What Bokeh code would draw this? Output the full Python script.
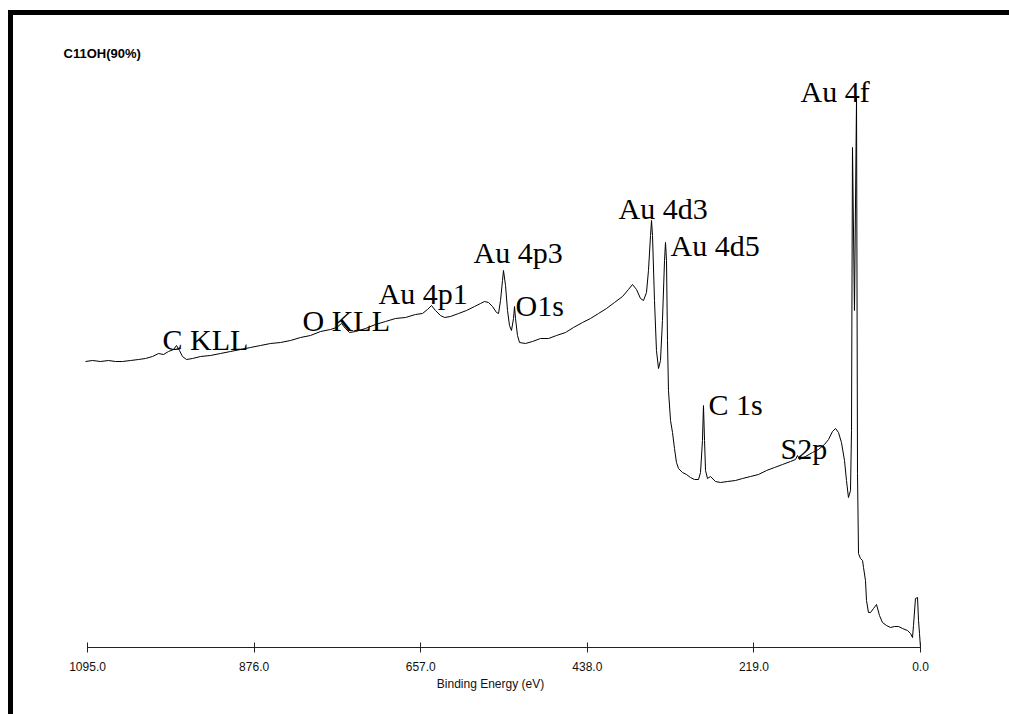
from bokeh.plotting import figure
from bokeh.models import Range1d, FixedTicker, PrintfTickFormatter
from bokeh.core.properties import value
from bokeh.embed import file_html
from bokeh.resources import INLINE

# Binding energy (eV) and intensity (arbitrary units)
energy = [1097.7, 1088.5, 1078.0, 1067.4, 1058.2, 1049.0, 1038.5, 1028.0, 1018.8, 1009.6,
          1001.7, 995.1, 988.6, 982.0, 978.1, 974.1, 970.2, 964.9, 957.0, 946.5,
          933.4, 920.2, 907.1, 893.9, 880.8, 867.6, 854.5, 841.3, 828.2, 815.0,
          801.9, 788.7, 775.6, 767.7, 761.1, 755.9, 750.6, 742.7, 729.6, 716.4,
          703.3, 690.2, 677.0, 663.9, 654.7, 648.1, 642.8, 637.6, 631.0, 625.7,
          617.9, 607.3, 596.8, 586.3, 578.4, 573.2, 567.9, 562.6, 557.4, 554.7,
          552.1, 549.5, 548.2, 545.5, 542.9, 540.3, 537.7, 535.0, 533.7, 532.4,
          529.8, 527.1, 519.3, 510.1, 499.5, 489.0, 478.5, 466.7, 456.2, 444.3,
          433.8, 423.3, 412.8, 402.3, 391.7, 383.9, 378.6, 373.3, 368.1, 364.1,
          360.2, 357.6, 354.9, 353.6, 352.3, 349.7, 347.1, 344.4, 341.8, 339.2,
          336.5, 335.2, 333.9, 332.6, 331.3, 328.6, 326.0, 323.4, 320.8, 318.1,
          312.9, 307.6, 302.4, 297.1, 291.8, 289.2, 286.6, 285.3, 283.9, 282.6,
          280.0, 276.1, 269.5, 262.9, 253.7, 243.2, 234.0, 223.5, 213.0, 202.4,
          191.9, 181.4, 170.9, 164.3, 161.7, 159.1, 151.2, 142.0, 134.1, 126.2,
          120.9, 115.7, 111.7, 107.8, 103.9, 99.9, 97.3, 94.7, 92.0, 90.7,
          89.4, 86.8, 84.1, 82.8, 81.5, 78.9, 76.2, 74.9, 72.3, 71.0,
          68.4, 65.7, 61.8, 57.8, 53.9, 50.0, 44.7, 39.4, 34.2, 28.9,
          23.7, 17.1, 13.1, 10.5, 9.2, 6.6, 3.9, 2.6, 1.3, 0.0]
intensity = [286, 287, 286, 287, 286, 286, 287, 288, 289, 291,
             294, 293, 296, 298, 302, 297, 291, 288, 289, 291,
             292, 294, 296, 298, 300, 302, 304, 305, 307, 310,
             312, 316, 318, 320, 324, 319, 315, 316, 319, 323,
             326, 329, 330, 333, 334, 338, 342, 337, 332, 330,
             331, 334, 337, 341, 344, 346, 345, 341, 335, 334,
             347, 367, 377, 362, 337, 322, 317, 329, 341, 329,
             312, 305, 304, 306, 309, 309, 312, 315, 320, 325,
             329, 334, 339, 345, 351, 358, 363, 358, 349, 347,
             355, 377, 412, 427, 412, 347, 297, 279, 287, 327,
             387, 405, 387, 307, 257, 227, 215, 199, 185, 179,
             175, 173, 170, 168, 168, 175, 207, 242, 207, 177,
             169, 171, 166, 165, 166, 167, 169, 171, 173, 177,
             180, 183, 186, 188, 192, 188, 191, 195, 198, 203,
             208, 216, 219, 215, 205, 187, 167, 150, 157, 217,
             500, 337, 550, 174, 94, 89, 87, 80, 67, 47,
             35, 35, 39, 43, 32, 25, 22, 20, 21, 21,
             19, 17, 14, 10, 22, 49, 50, 27, 14, 0]

peak_names = ["Au 4f", "Au 4d3", "Au 4d5", "Au 4p3", "O1s", "Au 4p1", "O KLL", "C KLL", "C 1s", "S2p"]
peak_label_x = [157.7, 397.0, 328.6, 587.6, 532.4, 712.5, 812.4, 996.4, 278.7, 184.0]
peak_label_y = [556, 439, 402, 395, 342, 354, 327, 308, 243, 199]

tick_values = [0, 219, 438, 657, 876, 1095]
sample_name = "C11OH(90%)"

p = figure(width=996, height=699, output_backend="svg", toolbar_location=None,
           x_range=Range1d(1143.7, -13.15), y_range=Range1d(0, 627),
           y_axis_location=None,
           min_border_left=37, min_border_right=79, min_border_top=5, min_border_bottom=67)
# thick frame on the left and top, drawn as an offset shadow outside the plot box
p.styles = {"margin-left": "13px", "margin-top": "15px",
            "box-shadow": "-2px -2px 0px 3px black"}
p.outline_line_color = None
p.xgrid.visible = False
p.ygrid.visible = False
p.background_fill_color = "white"
p.border_fill_color = "white"

ax = p.xaxis[0]
ax.bounds = (0, 1095)
ax.ticker = FixedTicker(ticks=tick_values)
ax.formatter = PrintfTickFormatter(format="%.1f")
ax.minor_tick_line_color = None
ax.major_tick_in = 5
ax.major_tick_out = 5
ax.axis_line_color = "#222222"
ax.major_tick_line_color = "#222222"
ax.major_label_standoff = 9
ax.major_label_text_font = "Liberation Sans"
ax.major_label_text_font_size = "12px"
ax.major_label_text_color = "#111111"
ax.axis_label = "Binding Energy (eV)"
ax.axis_label_text_font = "Liberation Sans"
ax.axis_label_text_font_size = "12px"
ax.axis_label_text_font_style = "normal"
ax.axis_label_text_color = "#111111"
ax.axis_label_standoff = 3

p.line(energy, intensity, line_color="black", line_width=1)

p.text(x=peak_label_x, y=peak_label_y, text=peak_names,
       text_font=value("Liberation Serif"), text_font_size="30px",
       text_baseline="alphabetic", text_align="left", text_color="black")

p.text(x=[1126.6], y=[594], text=[sample_name], text_font=value("Liberation Sans"),
       text_font_size="13px", text_font_style="bold", text_baseline="alphabetic",
       text_align="left", text_color="black")

open("out.html", "w").write(file_html(p, INLINE))
